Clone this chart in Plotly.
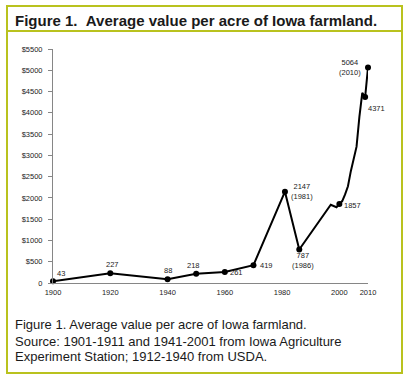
import plotly.graph_objects as go

# ---- data ----
years = [1900, 1920, 1940, 1950, 1960, 1970, 1981, 1986, 1997, 1998, 1999,
         2000, 2001, 2002, 2003, 2004, 2005, 2006, 2007, 2008, 2009, 2010]
values = [43, 227, 88, 218, 261, 419, 2147, 787, 1840, 1801, 1781,
          1857, 1926, 2083, 2275, 2629, 2914, 3204, 3908, 4468, 4371, 5064]

marker_years = [1900, 1920, 1940, 1950, 1960, 1970, 1981, 1986, 2000, 2009, 2010]
marker_values = [43, 227, 88, 218, 261, 419, 2147, 787, 1857, 4371, 5064]
label_texts = ["43", "227", "88", "218", "261", "419", "2147<br>(1981)",
               "787<br>(1986)", "1857", "4371", "5064<br>(2010)"]
label_dx = [8, 2, 0, -3, 12, 13, 17, 4, 13, 11, -18]
label_dy = [8, 9, 9, 8, -1, 0, 0, -11, -2, -11, 0]

x_ticks = [1900, 1920, 1940, 1960, 1980, 2000, 2010]
y_ticks = [0, 500, 1000, 1500, 2000, 2500, 3000, 3500, 4000, 4500, 5000, 5500]
y_ticktext = ["0"] + ["$" + str(v) for v in y_ticks[1:]]

title_text = "Figure 1.\u00a0\u00a0Average value per acre of Iowa farmland."
caption_lines = [
    "Figure 1. Average value per acre of Iowa farmland.",
    "Source: 1901-1911 and 1941-2001 from Iowa Agriculture",
    "Experiment Station; 1912-1940 from USDA.",
]

# ---- geometry ----
W, H = 409, 382
L, R, T, B = 53, 41, 49, 99
PW, PH = W - L - R, H - T - B


def px(x):
    return (x - L) / PW


def py(y):
    return (H - B - y) / PH


FONT = "Liberation Sans, Arial, sans-serif"
BORDER = "#b9c21e"

fig = go.Figure()
fig.add_trace(go.Scatter(x=years, y=values, mode="lines",
                         line=dict(color="black", width=2),
                         hoverinfo="skip", cliponaxis=False))
fig.add_trace(go.Scatter(x=marker_years, y=marker_values, mode="markers",
                         marker=dict(color="black", size=6),
                         cliponaxis=False))

annotations = []
for xv, yv, t, dx, dy in zip(marker_years, marker_values, label_texts, label_dx, label_dy):
    annotations.append(dict(x=xv, y=yv, xref="x", yref="y", text=t, showarrow=False,
                            xshift=dx, yshift=dy, xanchor="center", yanchor="middle",
                            font=dict(family=FONT, size=7.5, color="#222")))

annotations.append(dict(x=px(13), y=py(21), xref="paper", yref="paper", text="<b>" + title_text + "</b>",
                        showarrow=False, xanchor="left", yanchor="middle",
                        font=dict(family=FONT, size=15, color="#1a1a1a")))
for yy, line in zip([324.5, 341, 356.5], caption_lines):
    annotations.append(dict(x=px(13), y=py(yy), xref="paper", yref="paper", text=line,
                            showarrow=False, xanchor="left", yanchor="middle",
                            font=dict(family=FONT, size=13, color="#1a1a1a")))

shapes = [
    dict(type="rect", xref="paper", yref="paper", x0=px(7), x1=px(402), y0=py(6), y1=py(373),
         line=dict(color=BORDER, width=2), layer="below"),
    dict(type="line", xref="paper", yref="paper", x0=px(7), x1=px(403), y0=py(31), y1=py(31),
         line=dict(color=BORDER, width=2), layer="below"),
]

fig.update_layout(
    width=W, height=H, margin=dict(l=L, r=R, t=T, b=B, pad=0),
    paper_bgcolor="white", plot_bgcolor="white", showlegend=False,
    annotations=annotations, shapes=shapes,
    xaxis=dict(range=[1900, 2010], tickvals=x_ticks, showgrid=False, zeroline=False,
               showline=True, linecolor="#868686", linewidth=1, ticks="",
               tickfont=dict(family=FONT, size=7.5, color="#222"), ticklabelstandoff=2),
    yaxis=dict(range=[0, 5500], tickvals=y_ticks, ticktext=y_ticktext, showgrid=False,
               zeroline=False, showline=True, linecolor="#868686", linewidth=1,
               ticks="outside", ticklen=4, tickcolor="#868686",
               tickfont=dict(family=FONT, size=7.5, color="#222"), ticklabelstandoff=4),
)

fig.write_html("out.html", config={"displayModeBar": False},
               post_script="document.body.style.margin='0';document.body.style.overflow='hidden';")
